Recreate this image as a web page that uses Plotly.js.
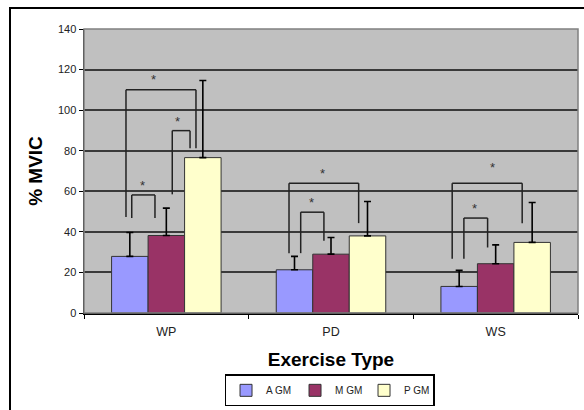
<!DOCTYPE html>
<html>
<head>
<meta charset="utf-8">
<script src="https://cdn.plot.ly/plotly-3.0.1.min.js"></script>
<style>
html,body{margin:0;padding:0;background:#fff;overflow:hidden;}
#wrap{position:relative;width:584px;height:410px;overflow:hidden;}
#chart{width:584px;height:410px;}
.frameline{position:absolute;background:#000;pointer-events:none;}
</style>
</head>
<body>
<div id="wrap"><div id="chart"></div>
<div class="frameline" style="left:9px;top:7px;width:575px;height:2px;"></div>
<div class="frameline" style="left:9px;top:7px;width:2px;height:403px;"></div>
</div>
<script>
// ---- data ----
const categories = ['WP', 'PD', 'WS'];
const seriesNames = ['A GM', 'M GM', 'P GM'];
const aGM = [27.9, 21.3, 13.1];
const aGMTop = [39.7, 27.9, 21.0];
const mGM = [38.2, 29.0, 24.3];
const mGMTop = [51.7, 37.2, 33.6];
const pGM = [76.6, 38.0, 34.8];
const pGMTop = [114.6, 55.0, 54.5];
const yTicks = [0, 20, 40, 60, 80, 100, 120, 140];

// significance brackets (category index, offsets in category units, heights in % MVIC)
const bracketCat = [0, 0, 0, 1, 1, 2, 2];
const bracketLeft = [-0.245, 0.036, -0.210, -0.255, -0.184, -0.264, -0.193];
const bracketRight = [0.180, 0.144, -0.069, 0.168, -0.043, 0.161, -0.049];
const bracketTop = [110, 89.9, 58.2, 64, 49.7, 64, 46.8];
const bracketLeftEnd = [47.3, 58.5, 46.8, 29.5, 29.5, 26.7, 26.7];
const bracketRightEnd = [81.2, 81.2, 46.8, 44.3, 35.6, 44.3, 32.3];
const starX = [-0.075, 0.066, -0.144, -0.051, -0.120, -0.021, -0.128];
const starY = [116.5, 96, 64.5, 70.1, 55.8, 73.0, 53.2];

const colors = ['#9999FF', '#993366', '#FFFFCC'];
const means = [aGM, mGM, pGM];
const tops = [aGMTop, mGMTop, pGMTop];

const traces = means.map((vals, k) => ({
  type: 'bar',
  name: seriesNames[k],
  x: categories,
  y: vals,
  marker: {color: colors[k], line: {color: '#333333', width: 1}},
  error_y: {
    type: 'data', symmetric: false,
    array: vals.map((v, i) => tops[k][i] - v),
    arrayminus: vals.map(() => 0),
    color: '#000000', thickness: 1.6, width: 3.5
  },
  hoverinfo: 'none'
}));

const shapes = [];
const annotations = [];
const lineStyle = {color: '#222222', width: 1.5};
for (let i = 0; i < bracketCat.length; i++) {
  const xl = bracketCat[i] + bracketLeft[i];
  const xr = bracketCat[i] + bracketRight[i];
  shapes.push({type: 'line', xref: 'x', yref: 'y', x0: xl, x1: xl, y0: bracketLeftEnd[i], y1: bracketTop[i], line: lineStyle, layer: 'above'});
  shapes.push({type: 'line', xref: 'x', yref: 'y', x0: xl, x1: xr, y0: bracketTop[i], y1: bracketTop[i], line: lineStyle, layer: 'above'});
  shapes.push({type: 'line', xref: 'x', yref: 'y', x0: xr, x1: xr, y0: bracketTop[i], y1: bracketRightEnd[i], line: lineStyle, layer: 'above'});
  annotations.push({xref: 'x', yref: 'y', x: bracketCat[i] + starX[i], y: starY[i], text: '*', showarrow: false,
    font: {family: 'Liberation Sans, Arial, sans-serif', size: 13, color: '#333333'}, yshift: -3});
}
// plot-area border (grey)
shapes.push({type: 'rect', xref: 'paper', yref: 'paper', x0: 0, x1: 1, y0: 0, y1: 1, line: {color: '#808080', width: 1.5}, layer: 'above'});

const layout = {
  width: 584, height: 410,
  margin: {l: 84, r: 6, t: 29, b: 97},
  paper_bgcolor: '#ffffff',
  plot_bgcolor: '#C0C0C0',
  font: {family: 'Liberation Sans, Arial, sans-serif', size: 10, color: '#222222'},
  barmode: 'group',
  bargap: 0.335,
  bargroupgap: 0,
  showlegend: true,
  legend: {
    orientation: 'h', xref: 'paper', x: 0.497, xanchor: 'center',
    yref: 'container', y: 0.087, yanchor: 'top',
    bordercolor: '#000000', borderwidth: 1.5, bgcolor: '#ffffff',
    font: {size: 10, color: '#222222'}, traceorder: 'normal',
    itemwidth: 30, entrywidth: 24, entrywidthmode: 'pixels', tracegroupgap: 0
  },
  xaxis: {
    type: 'category',
    range: [-0.5, 2.5],
    automargin: false,
    showline: true, linecolor: '#000000', linewidth: 1.5,
    ticks: 'outside', tickson: 'boundaries', ticklen: 4, tickcolor: '#000000', tickwidth: 1,
    ticklabelstandoff: 6,
    showgrid: false, zeroline: false,
    tickfont: {size: 12.5, color: '#222222'},
    title: {text: 'Exercise Type', font: {size: 19, color: '#000000', weight: 'bold'}, standoff: 15}
  },
  yaxis: {
    range: [0, 140],
    tickvals: yTicks,
    automargin: false,
    showline: true, linecolor: '#000000', linewidth: 1.5,
    ticks: 'outside', ticklen: 4, tickcolor: '#000000', tickwidth: 1,
    showgrid: true, gridcolor: '#3a3a3a', gridwidth: 2,
    zeroline: false,
    tickfont: {size: 11, color: '#222222'},
    title: {text: '% MVIC', font: {size: 19, color: '#000000', weight: 'bold'}, standoff: 10}
  },
  shapes: shapes,
  annotations: annotations
};

Plotly.newPlot('chart', traces, layout, {displayModeBar: false, staticPlot: true});
</script>
</body>
</html>
